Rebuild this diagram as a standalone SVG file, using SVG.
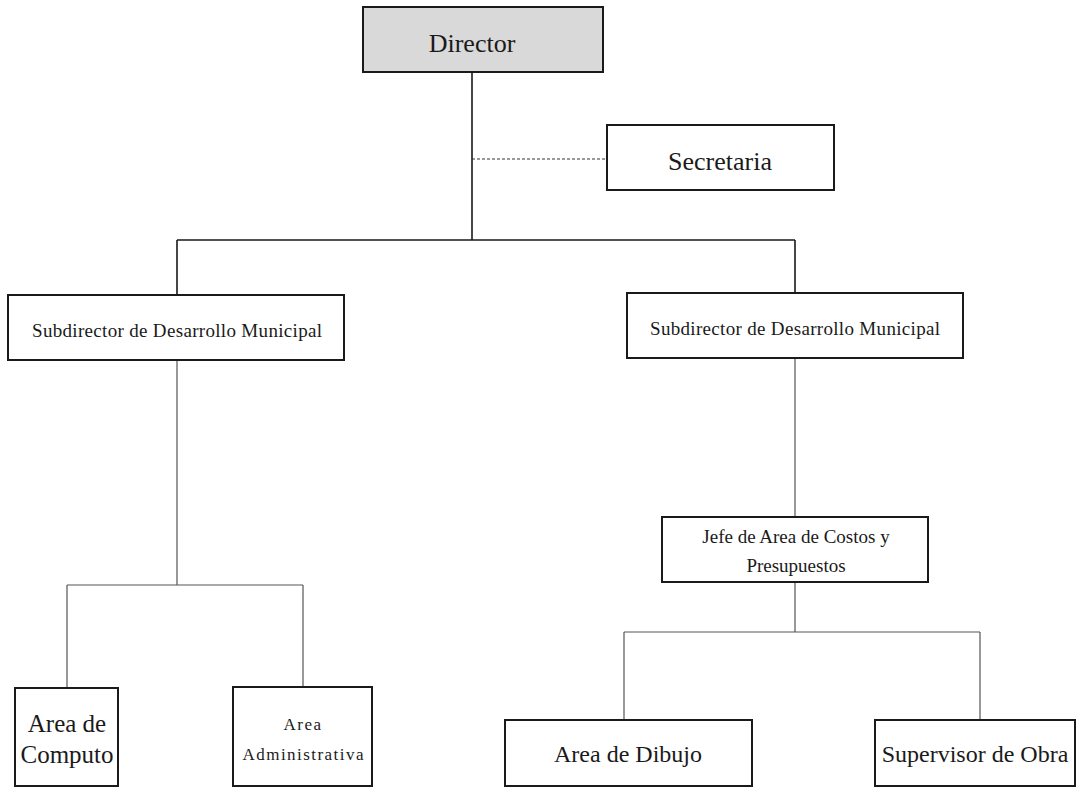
<svg xmlns="http://www.w3.org/2000/svg" width="1077" height="788" viewBox="0 0 1077 788">
<style>
.box{fill:#fff;stroke:#1a1a1a;stroke-width:2}
.gray{fill:#d9d9d9}
.t{font-family:"Liberation Serif","Times New Roman",serif;fill:#1a1a1a;text-anchor:middle}
.c{fill:none;stroke:#1a1a1a;stroke-width:1.6}
.c2{fill:none;stroke:#555;stroke-width:1.2}
.d{fill:none;stroke:#333;stroke-width:1;stroke-dasharray:3 2}
</style>
<rect width="1077" height="788" fill="#fff"/>
<g id="connectors">
<path class="c" d="M472 72V240M177 240H795M177 240V295M795 240V293"/>
<path class="d" d="M472 159H607"/>
<path class="c2" d="M177 360V585M67 585H303M67 585V688M303 585V687"/>
<path class="c2" d="M795 358V517M795 582V632M624 632H980M624 632V720M980 632V720"/>
</g>
<g id="director">
<rect class="box gray" x="363" y="7" width="240" height="65"/>
<text class="t" x="472" y="52" font-size="26">Director</text>
</g>
<g id="secretaria">
<rect class="box" x="607" y="125" width="227" height="65"/>
<text class="t" x="720" y="170" font-size="26">Secretaria</text>
</g>
<g id="subdirector1">
<rect class="box" x="8" y="295" width="336" height="65"/>
<text class="t" x="177" y="337" font-size="19" textLength="290" lengthAdjust="spacing">Subdirector de Desarrollo Municipal</text>
</g>
<g id="subdirector2">
<rect class="box" x="627" y="293" width="336" height="65"/>
<text class="t" x="795" y="335" font-size="19" textLength="290" lengthAdjust="spacing">Subdirector de Desarrollo Municipal</text>
</g>
<g id="jefe">
<rect class="box" x="662" y="517" width="266" height="65"/>
<text class="t" x="796" y="543" font-size="19">Jefe de Area de Costos y</text>
<text class="t" x="796" y="572" font-size="19">Presupuestos</text>
</g>
<g id="computo">
<rect class="box" x="15" y="688" width="103" height="98"/>
<text class="t" x="67" y="732" font-size="25">Area de</text>
<text class="t" x="67" y="763" font-size="25">Computo</text>
</g>
<g id="administrativa">
<rect class="box" x="233" y="687" width="139" height="99"/>
<text class="t" x="303" y="730" font-size="17" letter-spacing="1.5">Area</text>
<text class="t" x="303" y="760" font-size="17" textLength="121" lengthAdjust="spacing">Administrativa</text>
</g>
<g id="dibujo">
<rect class="box" x="505" y="720" width="247" height="66"/>
<text class="t" x="628" y="762" font-size="24">Area de Dibujo</text>
</g>
<g id="supervisor">
<rect class="box" x="875" y="720" width="200" height="66"/>
<text class="t" x="975" y="762" font-size="24">Supervisor de Obra</text>
</g>
</svg>
